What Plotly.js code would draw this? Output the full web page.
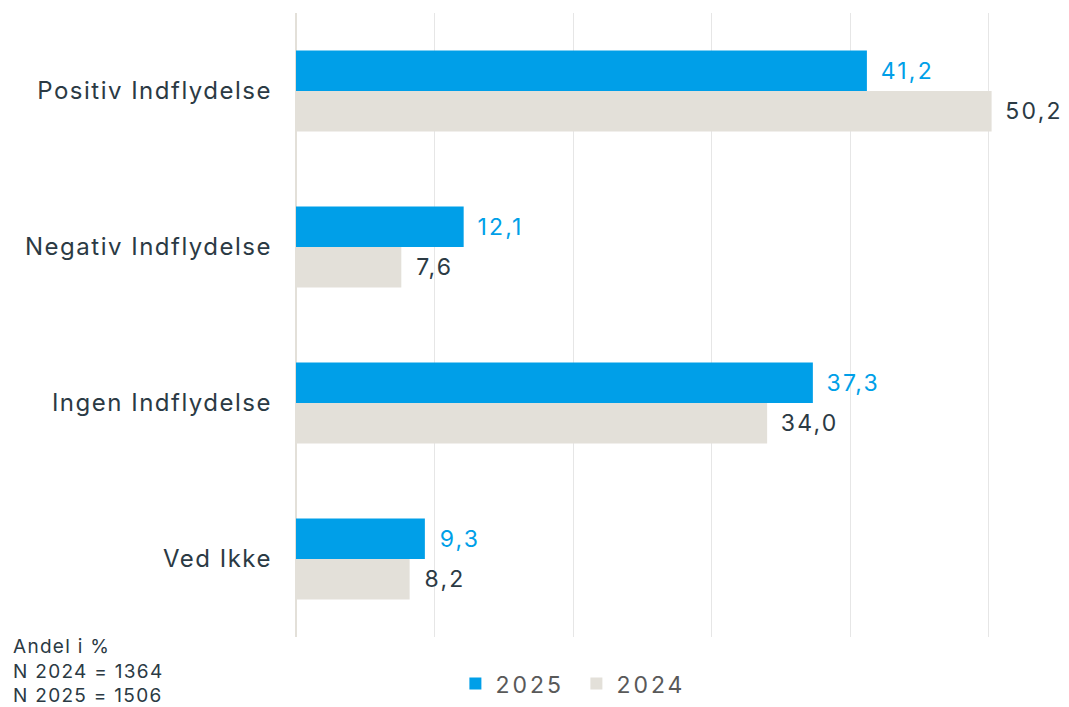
<!DOCTYPE html>
<html>
<head>
<meta charset="utf-8">
<script src="https://cdn.plot.ly/plotly-3.0.1.min.js"></script>
<style>
html,body{margin:0;padding:0;background:#fff}
#chart{width:1069px;height:707px}
#chart .ytick text{letter-spacing:1.5px}
#chart .bartext{letter-spacing:2.2px}
#chart .legendtext{letter-spacing:3px}
#chart .annotation-text{letter-spacing:1.3px}
</style>
</head>
<body>
<div id="chart"></div>
<script>
const categories = ["Positiv Indflydelse", "Negativ Indflydelse", "Ingen Indflydelse", "Ved Ikke"];
const values2025 = [41.2, 12.1, 37.3, 9.3];
const values2024 = [50.2, 7.6, 34.0, 8.2];
const seriesNames = ["2025", "2024"];
const noteLines = ["Andel i %", "N 2024 = 1364", "N 2025 = 1506"];

const FONT = "Inter, 'Noto Sans', sans-serif";
const SP = "\u00a0\u00a0";

const traces = [
  {
    type: "bar", orientation: "h", name: seriesNames[0],
    y: categories, x: values2025,
    marker: {color: "#009fe8"},
    text: values2025.map(v => SP + v.toFixed(1).replace(".", ",")),
    textposition: "outside", cliponaxis: false,
    textfont: {family: FONT, size: 23, color: "#009fe8"},
    hoverinfo: "none"
  },
  {
    type: "bar", orientation: "h", name: seriesNames[1],
    y: categories, x: values2024,
    marker: {color: "#e3e0d9"},
    text: values2024.map(v => SP + v.toFixed(1).replace(".", ",")),
    textposition: "outside", cliponaxis: false,
    textfont: {family: FONT, size: 23, color: "#2b3a44"},
    hoverinfo: "none"
  }
];

const layout = {
  width: 1069, height: 707,
  margin: {l: 296, r: 76, t: 13, b: 70},
  paper_bgcolor: "#ffffff", plot_bgcolor: "#ffffff",
  font: {family: FONT, color: "#2b3a44"},
  barmode: "group", bargap: 0.48, bargroupgap: 0,
  xaxis: {
    range: [0, 50.3], dtick: 10, showticklabels: false,
    showgrid: true, gridcolor: "#e6e6e6", gridwidth: 1,
    zeroline: true, zerolinecolor: "#e3e0d9", zerolinewidth: 2,
    showline: false, fixedrange: true
  },
  yaxis: {
    autorange: "reversed", showgrid: false, zeroline: false, showline: false,
    ticks: "", ticklabelstandoff: 23,
    tickfont: {family: FONT, size: 24, color: "#2b3a44"}
  },
  showlegend: true,
  legend: {
    orientation: "h", xref: "container", yref: "container",
    x: 0.426, xanchor: "left", y: 0.033, yanchor: "middle",
    font: {family: FONT, size: 23, color: "#595959"},
    entrywidth: 76, entrywidthmode: "pixels",
    traceorder: "normal", itemclick: false
  },
  annotations: [{
    xref: "paper", yref: "paper", x: -0.409, y: 0.006, xanchor: "left", yanchor: "top",
    align: "left", showarrow: false,
    text: noteLines.join("<br>"),
    font: {family: FONT, size: 19, color: "#2b3a44"}
  }]
};

Plotly.newPlot("chart", traces, layout, {displayModeBar: false, staticPlot: true});
</script>
</body>
</html>
